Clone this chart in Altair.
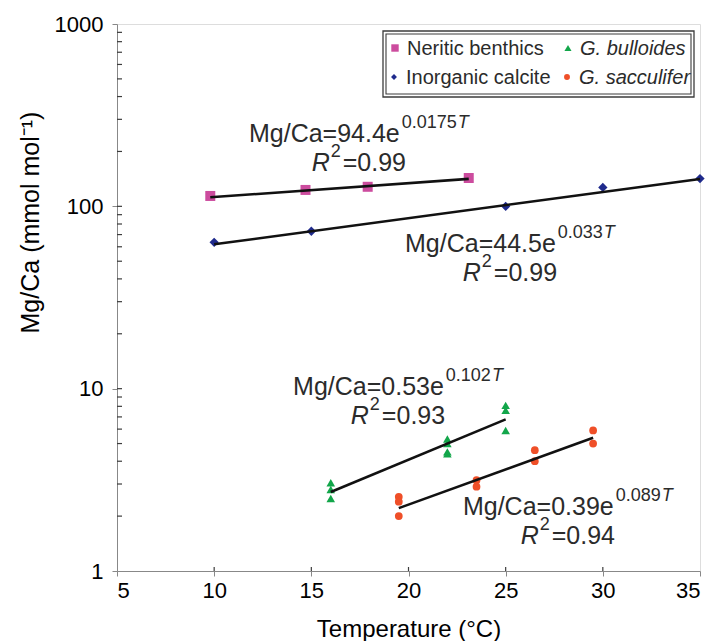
import math
import altair as alt
import pandas as pd

FONT = "Liberation Sans"
INK = "#2b2b2b"
FRAME = "#3c3c3c"

# ---- measurements: temperature (°C) and Mg/Ca (mmol/mol) ----
benthic_T = [9.8, 14.7, 17.9, 23.1]
benthic_mgca = [114, 123, 128, 143]

calcite_T = [10, 15, 25, 30, 35]
calcite_mgca = [63.5, 73, 100, 127, 142]

bulloides_T = [16, 16, 16, 22, 22, 22, 22, 25, 25, 25]
bulloides_mgca = [3.05, 2.8, 2.5, 5.3, 5.0, 4.5, 4.4, 8.1, 7.6, 5.9]

sacculifer_T = [19.5, 19.5, 19.5, 23.5, 23.5, 26.5, 26.5, 29.5, 29.5]
sacculifer_mgca = [2.55, 2.4, 2.0, 3.15, 2.9, 4.6, 4.0, 5.9, 5.0]

series_names = ["Neritic benthics", "Inorganic calcite", "G. bulloides", "G. sacculifer"]
series_colors = ["#cc4c9e", "#1f2a8c", "#12a64a", "#ef4f28"]
series_shapes = ["square", "diamond", "triangle-up", "circle"]

# exponential fits  Mg/Ca = a * exp(b T)
fit_a = ["94.4", "44.5", "0.53", "0.39"]
fit_b = ["0.0175", "0.033", "0.102", "0.089"]
fit_r2 = ["0.99", "0.99", "0.93", "0.94"]

# where each equation block starts (T, Mg/Ca at the first line's baseline)
label_anchor = [(11.79, 225.0), (19.82, 56.2), (14.06, 9.23), (22.80, 2.03)]

# ---- plot geometry ----
W, H = 583, 547
X_DOMAIN = [5, 35]
Y_DOMAIN = [1, 1000]
PX_PER_DEG = W / (X_DOMAIN[1] - X_DOMAIN[0])
PX_PER_DECADE = H / math.log10(Y_DOMAIN[1] / Y_DOMAIN[0])

points = pd.DataFrame(
    [(series_names[0], t, v) for t, v in zip(benthic_T, benthic_mgca)]
    + [(series_names[1], t, v) for t, v in zip(calcite_T, calcite_mgca)]
    + [(series_names[2], t, v) for t, v in zip(bulloides_T, bulloides_mgca)]
    + [(series_names[3], t, v) for t, v in zip(sacculifer_T, sacculifer_mgca)],
    columns=["series", "T", "v"],
)

# fitted lines, evaluated over each series' temperature range
ranges = [benthic_T, calcite_T, bulloides_T, sacculifer_T]
fit_rows = []
for name, a, b, ts in zip(series_names, fit_a, fit_b, ranges):
    for t in (min(ts), max(ts)):
        fit_rows.append((name, t, float(a) * math.exp(float(b) * t)))
fits = pd.DataFrame(fit_rows, columns=["series", "T", "v"])

# ---- equation labels (Arial-compatible advance widths, per 1000 em) ----
ADV = {
    "0": 556, "1": 556, "2": 556, "3": 556, "4": 556, "5": 556, "6": 556,
    "7": 556, "8": 556, "9": 556, ".": 278, "=": 584, " ": 278, "M": 833,
    "g": 556, "/": 278, "C": 722, "a": 556, "e": 556, "T": 611, "R": 722,
}


def text_width(s, size):
    return sum(ADV[c] for c in s) * size / 1000.0


MAIN, SUP, RISE, LINE2 = 25, 18, 14, 29


def offset(t0, v0, dx, dy):
    return t0 + dx / PX_PER_DEG, v0 * 10 ** (-dy / PX_PER_DECADE)


ann_rows = []
for (t0, v0), a, b, r2 in zip(label_anchor, fit_a, fit_b, fit_r2):
    main = f"Mg/Ca={a}e"
    wm = text_width(main, MAIN)
    wb = text_width(b, SUP)
    w1 = wm + 2 + wb + 1 + text_width("T", SUP)
    rest = f"={r2}"
    wr = text_width("R", MAIN)
    w2 = wr + 1 + text_width("2", SUP) + 2 + text_width(rest, MAIN)
    x2 = (w1 - w2) / 2
    pieces = [
        (0, 0, main, "main"),
        (wm + 2, -RISE, b, "sup"),
        (wm + 2 + wb + 1, -RISE, "T", "sup_it"),
        (x2, LINE2, "R", "main_it"),
        (x2 + wr + 1, LINE2 - RISE, "2", "sup"),
        (x2 + wr + 3 + text_width("2", SUP), LINE2, rest, "main"),
    ]
    for dx, dy, txt, kind in pieces:
        t, v = offset(t0, v0, dx, dy)
        ann_rows.append((t, v, txt, kind))
ann = pd.DataFrame(ann_rows, columns=["T", "v", "text", "kind"])

# ---- shared encodings ----
xs = alt.Scale(domain=X_DOMAIN, nice=False, zero=False)
ys = alt.Scale(type="log", domain=Y_DOMAIN, nice=False)

x_axis = alt.Axis(
    values=[5, 10, 15, 20, 25, 30, 35], grid=False, title="Temperature (°C)",
    tickSize=5, labelPadding=4, labelFontSize=22, titleFontSize=24,
    titleY=65, titleBaseline="alphabetic", titleFontWeight="normal",
)
y_axis = alt.Axis(
    values=[1, 10, 100, 1000], format="d", grid=False,
    title="Mg/Ca (mmol mol⁻¹)", tickSize=5, labelPadding=9,
    labelFontSize=22, titleFontSize=25, titleAngle=270, titleX=-79,
    titleY=198, titleAlign="center", titleBaseline="alphabetic",
    titleFontWeight="normal",
)
X = alt.X("T:Q", scale=xs, axis=x_axis)
Y = alt.Y("v:Q", scale=ys, axis=y_axis)

color = alt.Color("series:N", scale=alt.Scale(domain=series_names, range=series_colors), legend=None)
shape = alt.Shape("series:N", scale=alt.Scale(domain=series_names, range=series_shapes), legend=None)

pts = alt.Chart(points).mark_point(filled=True, opacity=1).encode(
    x=X, y=Y, color=color, shape=shape,
    size=alt.Size("series:N", scale=alt.Scale(domain=series_names, range=[100, 60, 75, 45]), legend=None),
)

lines = alt.Chart(fits).mark_line(color="#111111", strokeWidth=2.6).encode(
    x=X, y=Y, detail="series:N"
)


def ann_layer(kind, size, style):
    return (
        alt.Chart(ann)
        .transform_filter(alt.datum.kind == kind)
        .mark_text(align="left", baseline="alphabetic", font=FONT, fontSize=size,
                   fontStyle=style, color=INK)
        .encode(x=X, y=Y, text="text:N")
    )


labels = [
    ann_layer("main", MAIN, "normal"),
    ann_layer("sup", SUP, "normal"),
    ann_layer("main_it", MAIN, "italic"),
    ann_layer("sup_it", SUP, "italic"),
]

# inward minor ticks on the log axis, inward major ticks on both axes
minor_vals = [m * 10 ** k for k in range(3) for m in range(2, 10)] + [10, 100]
minor = alt.Chart(pd.DataFrame({"v": minor_vals})).mark_rule(color=FRAME, strokeWidth=1.2).encode(
    y=Y, x=alt.value(0), x2=alt.value(5)
)
x_inner = alt.Chart(pd.DataFrame({"T": [10, 15, 20, 25, 30]})).mark_rule(color=FRAME, strokeWidth=1.2).encode(
    x=X, y=alt.value(H), y2=alt.value(H - 4)
)

# ---- legend box ----
legend_box = [
    alt.Chart(pd.DataFrame({"k": [0]})).mark_rect(fill="white", stroke=FRAME, strokeWidth=1.3).encode(
        x=alt.value(266), x2=alt.value(577), y=alt.value(7), y2=alt.value(73)
    ),
    alt.Chart(pd.DataFrame({"k": [0]})).mark_rect(fill="white", stroke=FRAME, strokeWidth=1.1).encode(
        x=alt.value(269), x2=alt.value(574), y=alt.value(10), y2=alt.value(70)
    ),
]
legend_pos = [(278, 24), (277, 53), (451, 24), (450, 53)]
legend_sizes = [55, 35, 50, 35]
legend_items = []
for name, col, shp, (lx, ly), sz in zip(series_names, series_colors, series_shapes, legend_pos, legend_sizes):
    legend_items.append(
        alt.Chart(pd.DataFrame({"label": [name]})).mark_point(
            shape=shp, filled=True, opacity=1, color=col, size=sz
        ).encode(x=alt.value(lx), y=alt.value(ly))
    )
    legend_items.append(
        alt.Chart(pd.DataFrame({"label": [name]})).mark_text(
            align="left", baseline="middle", font=FONT, fontSize=20, color=INK,
            fontStyle="italic" if name.startswith("G.") else "normal",
        ).encode(x=alt.value(lx + 12), y=alt.value(ly + 1), text="label:N")
    )

chart = (
    alt.layer(pts, lines, minor, x_inner, *labels, *legend_box, *legend_items)
    .properties(
        width=W, height=H,
        autosize=alt.AutoSizeParams(type="none"),
        padding={"left": 117, "top": 24, "right": 15, "bottom": 70},
    )
    .configure_view(stroke=FRAME, strokeWidth=1.5)
    .configure_axis(
        domainColor=FRAME, domainWidth=1.5, tickColor=FRAME, tickWidth=1.2,
        labelColor=INK, titleColor=INK, labelFont=FONT, titleFont=FONT,
    )
    .configure(background="white")
)

chart.save("out.html", embed_options={"renderer": "svg", "actions": False})
